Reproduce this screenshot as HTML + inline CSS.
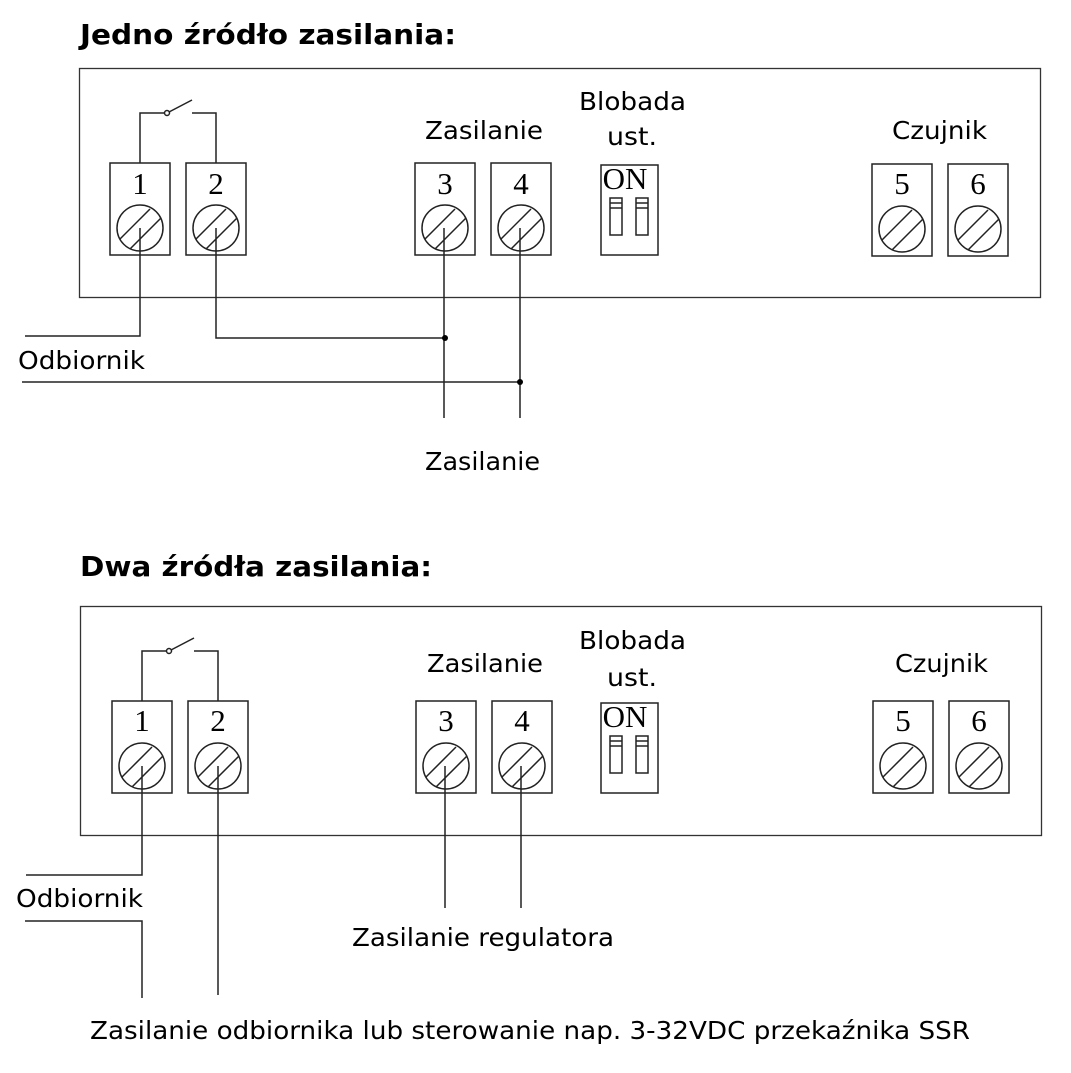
<!DOCTYPE html>
<html><head><meta charset="utf-8"><style>
html,body{margin:0;padding:0;background:#fff;}
svg{display:block;}
.t{font-family:"DejaVu Sans","Liberation Sans",sans-serif;font-size:25px;fill:#000;}
.h{font-family:"DejaVu Sans","Liberation Sans",sans-serif;font-weight:bold;font-size:28px;fill:#000;}
.n{font-family:"Liberation Serif",serif;font-size:31px;fill:#000;}
</style></head><body>
<svg width="1071" height="1073" viewBox="0 0 1071 1073" xmlns="http://www.w3.org/2000/svg">
<defs>
<g id="term" fill="none" stroke="#222" stroke-width="1.5">
<rect x="0" y="0" width="60" height="92" fill="#fff"/>
<circle cx="30" cy="65" r="23"/>
<line x1="10" y1="76" x2="40" y2="46"/>
<line x1="20" y1="86" x2="51" y2="55"/>
</g>
<g id="dip" fill="none" stroke="#222" stroke-width="1.5">
<rect x="0" y="0" width="57" height="90"/>
<rect x="9" y="33" width="12" height="37"/><line x1="9" y1="38" x2="21" y2="38"/><line x1="9" y1="43" x2="21" y2="43"/>
<rect x="35" y="33" width="12" height="37"/><line x1="35" y1="38" x2="47" y2="38"/><line x1="35" y1="43" x2="47" y2="43"/>
</g>
<g id="sw" fill="none" stroke="#222" stroke-width="1.5">
<polyline points="140,163 140,113 165,113"/>
<circle cx="167" cy="113" r="2.5" fill="#fff"/>
<line x1="169" y1="112" x2="192" y2="100"/>
<polyline points="192,113 216,113 216,163"/>
</g>
</defs>

<!-- TOP -->
<text class="h" x="80" y="44" textLength="376" lengthAdjust="spacingAndGlyphs">Jedno źródło zasilania:</text>
<rect x="79.5" y="68.5" width="961" height="229" fill="none" stroke="#333" stroke-width="1.3"/>
<use href="#sw"/>
<use href="#term" x="110" y="163"/><use href="#term" x="186" y="163"/>
<use href="#term" x="415" y="163"/><use href="#term" x="491" y="163"/>
<use href="#term" x="872" y="164"/><use href="#term" x="948" y="164"/>
<use href="#dip" x="601" y="165"/>
<text class="n" x="625" y="189" font-size="21" text-anchor="middle">ON</text>
<text class="n" x="140" y="194" text-anchor="middle">1</text>
<text class="n" x="216" y="194" text-anchor="middle">2</text>
<text class="n" x="445" y="194" text-anchor="middle">3</text>
<text class="n" x="521" y="194" text-anchor="middle">4</text>
<text class="n" x="902" y="194" text-anchor="middle">5</text>
<text class="n" x="978" y="194" text-anchor="middle">6</text>
<text class="t" x="425" y="139" textLength="118" lengthAdjust="spacingAndGlyphs">Zasilanie</text>
<text class="t" x="579" y="110" textLength="107" lengthAdjust="spacingAndGlyphs">Blobada</text>
<text class="t" x="607" y="145" textLength="50" lengthAdjust="spacingAndGlyphs">ust.</text>
<text class="t" x="892" y="139" textLength="95" lengthAdjust="spacingAndGlyphs">Czujnik</text>
<g fill="none" stroke="#222" stroke-width="1.5">
<polyline points="140,228 140,336 25,336"/>
<polyline points="216,228 216,338 445,338"/>
<line x1="444" y1="228" x2="444" y2="418"/>
<line x1="22" y1="382" x2="520" y2="382"/>
<line x1="520" y1="228" x2="520" y2="418"/>
</g>
<circle cx="445" cy="338" r="3" fill="#000"/><circle cx="520" cy="382" r="3" fill="#000"/>
<text class="t" x="18" y="369" textLength="127" lengthAdjust="spacingAndGlyphs">Odbiornik</text>
<text class="t" x="425" y="470" textLength="115" lengthAdjust="spacingAndGlyphs">Zasilanie</text>

<!-- BOTTOM -->
<text class="h" x="80" y="576" textLength="352" lengthAdjust="spacingAndGlyphs">Dwa źródła zasilania:</text>
<rect x="80.5" y="606.5" width="961" height="229" fill="none" stroke="#333" stroke-width="1.3"/>
<g transform="translate(2,538)"><use href="#sw"/></g>
<use href="#term" x="112" y="701"/><use href="#term" x="188" y="701"/>
<use href="#term" x="416" y="701"/><use href="#term" x="492" y="701"/>
<use href="#term" x="873" y="701"/><use href="#term" x="949" y="701"/>
<use href="#dip" x="601" y="703"/>
<text class="n" x="625" y="727" font-size="21" text-anchor="middle">ON</text>
<text class="n" x="142" y="731" text-anchor="middle">1</text>
<text class="n" x="218" y="731" text-anchor="middle">2</text>
<text class="n" x="446" y="731" text-anchor="middle">3</text>
<text class="n" x="522" y="731" text-anchor="middle">4</text>
<text class="n" x="903" y="731" text-anchor="middle">5</text>
<text class="n" x="979" y="731" text-anchor="middle">6</text>
<text class="t" x="427" y="672" textLength="116" lengthAdjust="spacingAndGlyphs">Zasilanie</text>
<text class="t" x="579" y="649" textLength="107" lengthAdjust="spacingAndGlyphs">Blobada</text>
<text class="t" x="607" y="686" textLength="50" lengthAdjust="spacingAndGlyphs">ust.</text>
<text class="t" x="895" y="672" textLength="93" lengthAdjust="spacingAndGlyphs">Czujnik</text>
<g fill="none" stroke="#222" stroke-width="1.5">
<polyline points="142,766 142,875 26,875"/>
<polyline points="25,921 142,921 142,998"/>
<line x1="218" y1="766" x2="218" y2="995"/>
<line x1="445" y1="766" x2="445" y2="908"/>
<line x1="521" y1="766" x2="521" y2="908"/>
</g>
<text class="t" x="16" y="907" textLength="127" lengthAdjust="spacingAndGlyphs">Odbiornik</text>
<text class="t" x="352" y="946" textLength="262" lengthAdjust="spacingAndGlyphs">Zasilanie regulatora</text>
<text class="t" x="90" y="1039" textLength="880" lengthAdjust="spacingAndGlyphs">Zasilanie odbiornika lub sterowanie nap. 3-32VDC przekaźnika SSR</text>
</svg>
</body></html>
